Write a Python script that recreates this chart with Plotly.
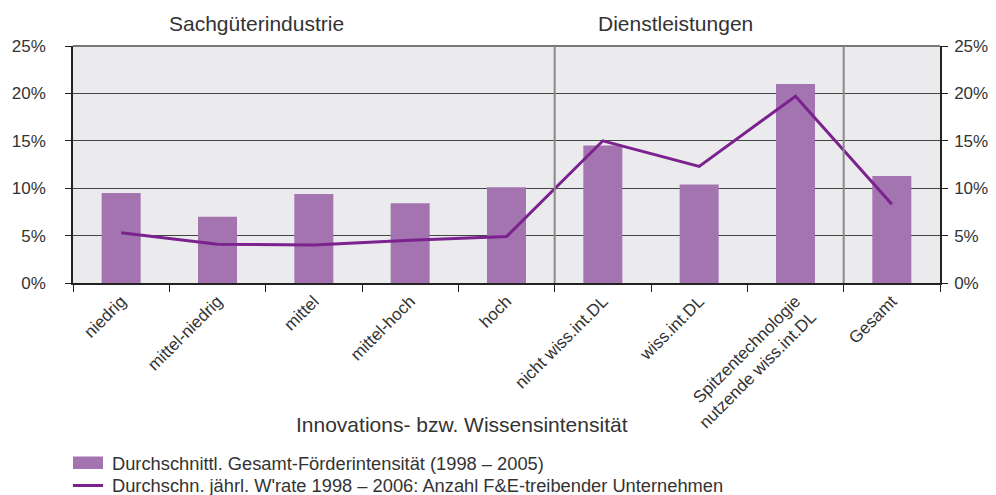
import plotly.graph_objects as go

categories = ["niedrig", "mittel-niedrig", "mittel", "mittel-hoch", "hoch",
              "nicht wiss.int.DL", "wiss.int.DL",
              "Spitzentechnologie<br>nutzende wiss.int.DL", "Gesamt"]
foerderintensitaet = [9.5, 7.0, 9.4, 8.4, 10.1, 14.5, 10.4, 21.0, 11.3]
wachstumsrate = [5.3, 4.1, 4.0, 4.5, 4.9, 15.0, 12.3, 19.7, 8.3]
y_ticks = [0, 5, 10, 15, 20, 25]
y_ticklabels = [f"{v}%" for v in y_ticks]

bar_name = "Durchschnittl. Gesamt-Förderintensität (1998 – 2005)"
line_name = "Durchschn. jährl. W'rate 1998 – 2006: Anzahl F&E-treibender Unternehmen"

FONT = "Liberation Sans"
TXT = "#333333"
BAR_COLOR = "#a374b0"
LINE_COLOR = "#7b228f"

# the page body has an 8px margin: work in page pixels and shift
OFF = 8
FW, FH = 996 - OFF, 495 - OFF
L, R, T, B = 73 - OFF, 940 - OFF, 46 - OFF, 283 - OFF
W, H = R - L, B - T

def px(x):
    return (x - OFF - L) / W

def py(y):
    return (B - (y - OFF)) / H

fig = go.Figure()
fig.add_trace(go.Bar(x=categories, y=foerderintensitaet, name=bar_name,
                     marker=dict(color=BAR_COLOR, line=dict(width=0)), width=0.405,
                     showlegend=False))
fig.add_trace(go.Scatter(x=categories, y=wachstumsrate, name=line_name, mode="lines",
                         line=dict(color=LINE_COLOR, width=3), showlegend=False))
fig.add_trace(go.Scatter(x=categories, y=wachstumsrate, yaxis="y2", mode="lines",
                         line=dict(width=0), showlegend=False, hoverinfo="skip", opacity=0))

fig.update_layout(
    width=FW, height=FH,
    margin=dict(l=L, r=FW - R, t=T, b=FH - B, autoexpand=False),
    paper_bgcolor="white", plot_bgcolor="#ebebed",
    font=dict(family=FONT, color=TXT, size=17),
    showlegend=False,
    xaxis=dict(type="category", tickangle=-45, ticks="outside", tickson="boundaries",
               ticklen=7, tickcolor="#222", showline=True, linecolor="#222", linewidth=1.5,
               showgrid=False, tickfont=dict(size=17, color=TXT)),
    yaxis=dict(range=[0, 25], tickvals=y_ticks, ticktext=y_ticklabels, ticks="outside",
               ticklen=6, tickcolor="#222", showline=True, linecolor="#222", linewidth=1.5,
               gridcolor="#444", gridwidth=1, zeroline=False, tickfont=dict(size=17, color=TXT),
               ticklabelstandoff=16),
    yaxis2=dict(range=[0, 25], tickvals=y_ticks, ticktext=y_ticklabels, ticks="outside",
                ticklen=6, tickcolor="#222", showline=True, linecolor="#222", linewidth=1.5,
                overlaying="y", side="right", showgrid=False, zeroline=False,
                tickfont=dict(size=17, color=TXT), ticklabelstandoff=3),
)

# top border / group separators
fig.add_shape(type="line", xref="paper", yref="paper", x0=0, x1=1, y0=1, y1=1,
              line=dict(color="#777", width=2))
for xv in [4.5, 7.5]:
    fig.add_shape(type="line", xref="x", yref="paper", x0=xv, x1=xv, y0=0, y1=1,
                  line=dict(color="#8a8a8a", width=2))

fig.add_annotation(text="Sachgüterindustrie", xref="paper", yref="paper",
                   x=px(256), y=py(23), showarrow=False,
                   font=dict(size=21, color=TXT), xanchor="center", yanchor="middle")
fig.add_annotation(text="Dienstleistungen", xref="paper", yref="paper",
                   x=px(675), y=py(23), showarrow=False,
                   font=dict(size=21, color=TXT), xanchor="center", yanchor="middle")
fig.add_annotation(text="Innovations- bzw. Wissensintensität", xref="paper", yref="paper",
                   x=px(462), y=py(424), showarrow=False,
                   font=dict(size=21, color=TXT), xanchor="center", yanchor="middle")

# manual legend
fig.add_shape(type="rect", xref="paper", yref="paper", x0=px(73), x1=px(103),
              y0=py(469), y1=py(456.5), fillcolor=BAR_COLOR, line=dict(width=0))
fig.add_shape(type="line", xref="paper", yref="paper", x0=px(73), x1=px(103),
              y0=py(485.5), y1=py(485.5), line=dict(color=LINE_COLOR, width=3))
fig.add_annotation(text=bar_name, xref="paper", yref="paper", x=px(110), y=py(463),
                   showarrow=False, xanchor="left", yanchor="middle",
                   font=dict(size=18.3, color=TXT))
fig.add_annotation(text=line_name, xref="paper", yref="paper", x=px(110), y=py(485.5),
                   showarrow=False, xanchor="left", yanchor="middle",
                   font=dict(size=18.3, color=TXT))

fig.write_html("out.html")
